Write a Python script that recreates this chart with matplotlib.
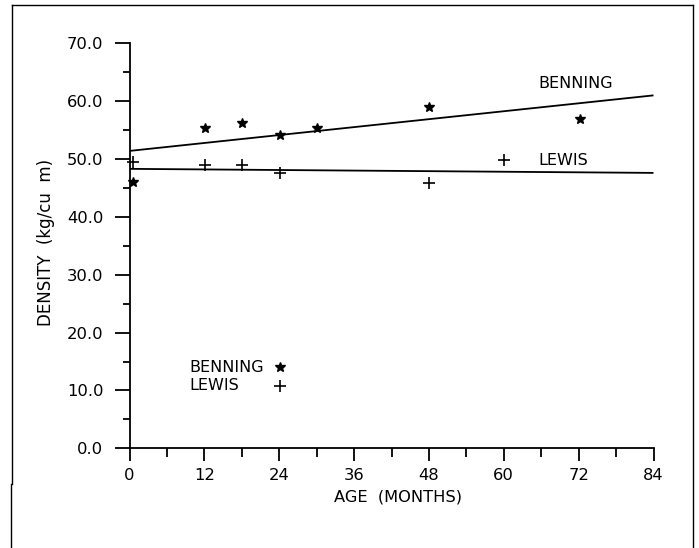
import matplotlib
matplotlib.use("Agg")
import matplotlib.pyplot as plt
from matplotlib.lines import Line2D
import numpy as np

# ---- data ----
benning_age = [0.6, 12.1, 18.1, 24.2, 30.1, 48.0, 72.2]
benning_density = [46.1, 55.3, 56.2, 54.1, 55.4, 59.0, 56.9]
lewis_age = [0.6, 12.1, 18.1, 24.1, 48.0, 60.0]
lewis_density = [49.4, 49.0, 49.0, 47.5, 45.8, 49.8]

fit_age = [0, 84]
benning_fit = [51.4, 61.0]
lewis_fit = [48.3, 47.6]

x_ticks = [0, 12, 24, 36, 48, 60, 72, 84]
y_ticks = [0, 10, 20, 30, 40, 50, 60, 70]
y_ticklabels = ["0.0", "10.0", "20.0", "30.0", "40.0", "50.0", "60.0", "70.0"]

W, H = 699, 548
fig = plt.figure(figsize=(W / 100, H / 100), dpi=100)
plt.rcParams['font.family'] = ['DejaVu Sans']

ax = fig.add_axes([129.5 / W, 1 - 448.3 / H, 524 / W, 405 / H])
ax.set_xlim(0, 84)
ax.set_ylim(0, 70)

# regression lines
ax.plot(fit_age, benning_fit, color="black", lw=1.3, solid_capstyle="butt")
ax.plot(fit_age, lewis_fit, color="black", lw=1.3, solid_capstyle="butt")

# points
ax.plot(benning_age, benning_density, ls="none", marker="*", ms=7,
        color="black", mec="black", clip_on=False)
ax.plot(lewis_age, lewis_density, ls="none", marker="+", ms=9, mew=1.2,
        color="black", clip_on=False)

# line labels
lab_fs = 11.5
ax.text(65.5, 63.1, "BENNING", fontsize=lab_fs, va="center", ha="left")
ax.text(65.5, 49.8, "LEWIS", fontsize=lab_fs, va="center", ha="left")

# key
ax.text(9.6, 14.0, "BENNING", fontsize=lab_fs, va="center", ha="left")
ax.text(9.6, 10.8, "LEWIS", fontsize=lab_fs, va="center", ha="left")
ax.plot([24.1], [14.0], marker="*", ms=7, color="black", ls="none")
ax.plot([24.1], [10.8], marker="+", ms=9, mew=1.2, color="black", ls="none")

# spines and ticks
for s in ["top", "right"]:
    ax.spines[s].set_visible(False)
for s in ["left", "bottom"]:
    ax.spines[s].set_linewidth(1.3)

ax.set_xticks(x_ticks)
ax.set_xticklabels([str(v) for v in x_ticks], fontsize=11.8)
ax.set_xticks(np.arange(6, 84, 12), minor=True)
ax.set_yticks(y_ticks)
ax.set_yticklabels(y_ticklabels, fontsize=11.8)
ax.set_yticks(np.arange(5, 70, 10), minor=True)

ax.tick_params(axis="x", which="major", direction="out", length=9.5, width=1.3, pad=4.5)
ax.tick_params(axis="x", which="minor", direction="out", length=6.5, width=1.3)
ax.tick_params(axis="y", which="major", direction="out", length=10.8, width=1.3, pad=8)
ax.tick_params(axis="y", which="minor", direction="out", length=5, width=1.3)

ax.set_xlabel("AGE  (MONTHS)", fontsize=11.7)
ax.xaxis.set_label_coords((398 - 129.5) / 524, -(496.7 - 448.3) / 405)
ax.xaxis.label.set_va("center")
ax.set_ylabel("DENSITY  (kg/cu  m)", fontsize=12)
ax.yaxis.set_label_coords(-(129.5 - 46) / 524, (448.3 - 242.5) / 405)
ax.yaxis.label.set_va("center")

# outer page frame
fx = lambda px: px / W
fy = lambda py: 1 - py / H
fig.add_artist(Line2D([fx(12), fx(693)], [fy(5), fy(5)], color="black", lw=1.0))
fig.add_artist(Line2D([fx(12), fx(12)], [fy(5), fy(484)], color="black", lw=1.0))
fig.add_artist(Line2D([fx(11), fx(11)], [fy(484), fy(548)], color="black", lw=1.0))
fig.add_artist(Line2D([fx(693), fx(693)], [fy(5), fy(548)], color="black", lw=1.0))

fig.savefig("out.png", dpi=100)
